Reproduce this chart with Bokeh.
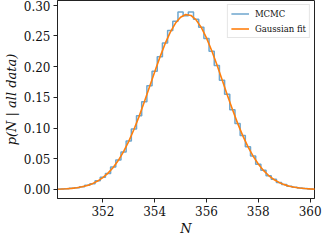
import numpy as np
from bokeh.plotting import figure
from bokeh.models import Legend, LegendItem, FixedTicker, NumeralTickFormatter, Range1d
from bokeh.embed import file_html
from bokeh.resources import INLINE

# ---- data ----
bin_left_edge = 350.3
bin_width = 0.2
mcmc_density = [0.0008, 0.0012, 0.0019, 0.0027, 0.0045, 0.0068, 0.0092, 0.0140, 0.0198, 0.0262,
                0.0365, 0.0480, 0.0610, 0.0790, 0.0985, 0.1200, 0.1430, 0.1690, 0.1925, 0.2160,
                0.2385, 0.2590, 0.2740, 0.2890, 0.2830, 0.2890, 0.2770, 0.2640, 0.2460, 0.2250,
                0.2020, 0.1780, 0.1550, 0.1300, 0.1075, 0.0880, 0.0695, 0.0545, 0.0410, 0.0315,
                0.0225, 0.0165, 0.0112, 0.0080, 0.0052, 0.0036, 0.0022, 0.0015, 0.0009]
fit_n = [350.2, 350.4, 350.6, 350.8, 351.0, 351.2, 351.4, 351.6, 351.8, 352.0, 352.2, 352.4, 352.6,
         352.8, 353.0, 353.2, 353.4, 353.6, 353.8, 354.0, 354.2, 354.4, 354.6, 354.8, 355.0, 355.2,
         355.4, 355.6, 355.8, 356.0, 356.2, 356.4, 356.6, 356.8, 357.0, 357.2, 357.4, 357.6, 357.8,
         358.0, 358.2, 358.4, 358.6, 358.8, 359.0, 359.2, 359.4, 359.6, 359.8, 360.0, 360.2]
fit_density = [0.0004, 0.0007, 0.0011, 0.0018, 0.0028, 0.0043, 0.0065, 0.0095, 0.0137, 0.0193, 0.0266,
               0.0359, 0.0475, 0.0617, 0.0784, 0.0976, 0.1190, 0.1423, 0.1667, 0.1913, 0.2151, 0.2370,
               0.2559, 0.2706, 0.2805, 0.2848, 0.2834, 0.2762, 0.2638, 0.2469, 0.2264, 0.2034, 0.1790,
               0.1544, 0.1305, 0.1080, 0.0876, 0.0697, 0.0543, 0.0414, 0.0310, 0.0227, 0.0163, 0.0115,
               0.0079, 0.0053, 0.0035, 0.0023, 0.0015, 0.0009, 0.0005]
x_ticks = [352, 354, 356, 358, 360]
y_ticks = [0.00, 0.05, 0.10, 0.15, 0.20, 0.25, 0.30]
x_limits = (350.25, 360.17)
y_limits = (-0.0147, 0.3077)

# ---- histogram outline (step) ----
edges = bin_left_edge + bin_width * np.arange(len(mcmc_density) + 1)
hx, hy = [edges[0]], [0.0]
for i, v in enumerate(mcmc_density):
    hx += [edges[i], edges[i + 1]]
    hy += [v, v]
hx.append(edges[-1]); hy.append(0.0)

FONT = "DejaVu Serif"
p = figure(width=324, height=238, output_backend="svg", toolbar_location=None,
           x_range=Range1d(*x_limits), y_range=Range1d(*y_limits),
           min_border_left=40, min_border_right=10, min_border_top=0, min_border_bottom=10)
p.background_fill_color = "white"
p.border_fill_color = "white"
p.outline_line_color = "#222222"
p.outline_line_width = 1
p.xgrid.visible = False
p.ygrid.visible = False

r_hist = p.line(hx, hy, line_color="#1f77b4", line_alpha=0.65, line_width=1.5)
r_fit = p.line(fit_n, fit_density, line_color="#ff7f0e", line_width=1.6)

for ax in (p.xaxis[0], p.yaxis[0]):
    ax.axis_line_color = "#222222"
    ax.major_tick_line_color = "#222222"
    ax.major_tick_out = 4
    ax.major_tick_in = 0
    ax.minor_tick_out = 0
    ax.minor_tick_in = 0
    ax.major_label_text_font = FONT
    ax.major_label_text_font_size = "12px"
    ax.major_label_text_color = "#111111"
    ax.axis_label_text_font = FONT
    ax.axis_label_text_font_size = "13px"
    ax.axis_label_text_font_style = "italic"
    ax.axis_label_text_color = "#111111"
    ax.major_label_standoff = 3

p.xaxis.ticker = FixedTicker(ticks=x_ticks)
p.yaxis.ticker = FixedTicker(ticks=y_ticks)
p.yaxis.formatter = NumeralTickFormatter(format="0.00")
p.xaxis.axis_label = "N"
p.yaxis.axis_label = "p(N | all data)"
p.xaxis.axis_label_standoff = 2
p.yaxis.axis_label_standoff = 2

legend = Legend(items=[LegendItem(label="MCMC", renderers=[r_hist]),
                       LegendItem(label="Gaussian fit", renderers=[r_fit])],
                location="top_right")
legend.label_text_font = FONT
legend.label_text_font_size = "8.5px"
legend.label_text_color = "#111111"
legend.label_height = 11
legend.glyph_height = 11
legend.glyph_width = 18
legend.label_standoff = 6
legend.spacing = 4
legend.padding = 3
legend.margin = 4
legend.border_line_color = "#cccccc"
legend.border_line_width = 1
legend.background_fill_alpha = 0.8
p.add_layout(legend)

open("out.html", "w").write(file_html(p, INLINE))
